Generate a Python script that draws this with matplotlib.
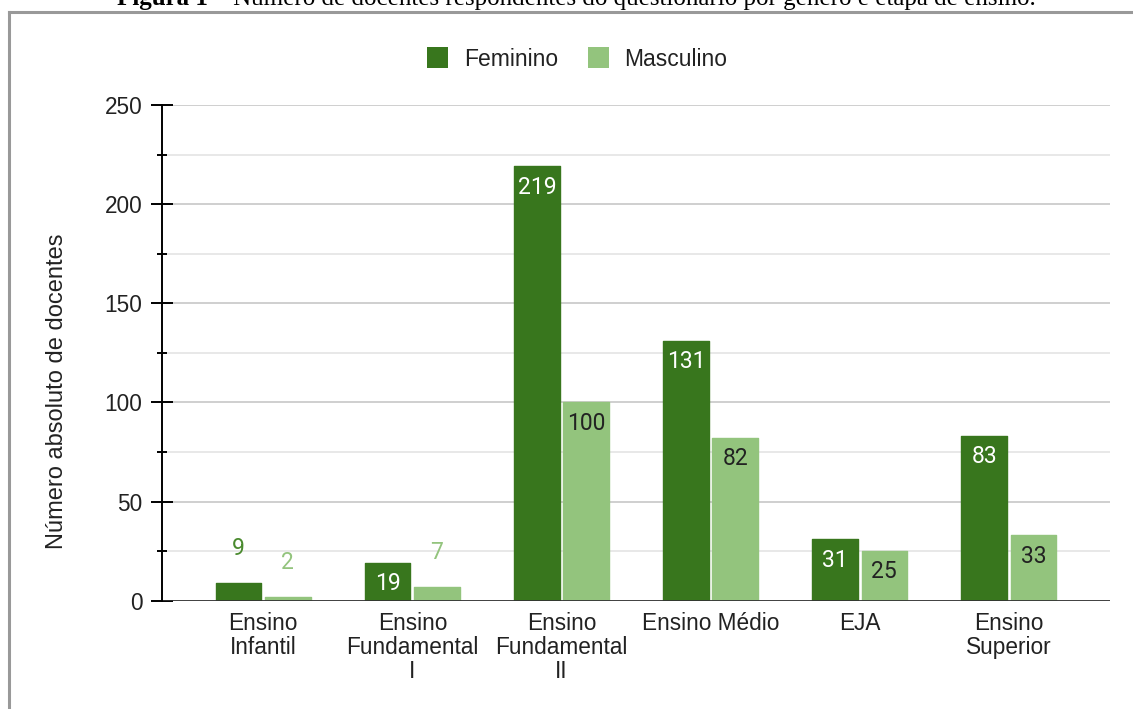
import numpy as np
import matplotlib
matplotlib.use('Agg')
import matplotlib.pyplot as plt
from matplotlib.patches import Patch
from matplotlib.lines import Line2D
from matplotlib.ticker import MultipleLocator

categorias = ['Ensino\nInfantil', 'Ensino\nFundamental\nI', 'Ensino\nFundamental\nII',
              'Ensino Médio', 'EJA', 'Ensino\nSuperior']
feminino = [9, 19, 219, 131, 31, 83]
masculino = [2, 7, 100, 82, 25, 33]

VERDE_ESCURO = '#38761d'
VERDE_CLARO = '#93c47d'
SANS = 'Liberation Sans'

W, H = 1133, 709
fig = plt.figure(figsize=(W / 100, H / 100), dpi=100)
ax = fig.add_axes([162 / W, (H - 600.7) / H, 948 / W, 495.7 / H])

# moldura cinza (cortada na direita e embaixo, como no recorte original)
fig.add_artist(Line2D([9 / W, 9 / W], [0, 1 - 12 / H], transform=fig.transFigure,
                      color='#999999', lw=2.2))
fig.add_artist(Line2D([9 / W, 1], [1 - 12 / H, 1 - 12 / H], transform=fig.transFigure,
                      color='#999999', lw=2.2))

# legenda da figura, parcialmente cortada no topo: ajusta o tamanho para ir de 117 a 1033 px
t1 = fig.text(117 / W, 1 - 5.5 / H, 'Figura 1', family='Liberation Serif', weight='bold',
              fontsize=17, ha='left', va='baseline')
t2 = fig.text(0, 1 - 5.5 / H,
              ' – Número de docentes respondentes do questionário por gênero e etapa de ensino.',
              family='Liberation Serif', fontsize=17, ha='left', va='baseline')
r = fig.canvas.get_renderer()
larg = t1.get_window_extent(r).width + t2.get_window_extent(r).width
tam = 17 * (1033 - 117) / larg
t1.set_fontsize(tam)
t2.set_fontsize(tam)
t2.set_x((117 + t1.get_window_extent(r).width) / W)

x = np.arange(len(categorias))
largura = 0.304
desl = 0.165

b1 = ax.bar(x - desl, feminino, largura, color=VERDE_ESCURO, edgecolor=VERDE_ESCURO,
            linewidth=1, joinstyle='round', zorder=3)
b2 = ax.bar(x + desl, masculino, largura, color=VERDE_CLARO, edgecolor=VERDE_CLARO,
            linewidth=1, joinstyle='round', zorder=3)

# rótulos de dados: dentro da barra quando cabe, acima dela quando não
for barras, vals, cor_in, cor_out in [(b1, feminino, 'white', '#4a8a2e'),
                                      (b2, masculino, '#222222', VERDE_CLARO)]:
    for b, v in zip(barras, vals):
        cx = b.get_x() + b.get_width() / 2
        if v >= 15:
            ax.annotate(str(v), (cx, v), xytext=(0, -15), textcoords='offset points',
                        ha='center', va='center', color=cor_in, fontsize=16.5,
                        family='Roboto', zorder=4)
        else:
            ax.annotate(str(v), (cx, v), xytext=(0, 25), textcoords='offset points',
                        ha='center', va='center', color=cor_out, fontsize=16.5,
                        family='Roboto', zorder=4)

ax.set_xlim(-0.679, 5.679)
ax.set_ylim(0, 250)
ax.yaxis.set_major_locator(MultipleLocator(50))
ax.yaxis.set_minor_locator(MultipleLocator(25))
ax.grid(True, which='major', axis='y', color='#cccccc', lw=1.3, zorder=0)
ax.grid(True, which='minor', axis='y', color='#e6e6e6', lw=1.3, zorder=0)
ax.axhline(0, color='#333333', lw=2, zorder=4)

for s in ['top', 'right', 'bottom']:
    ax.spines[s].set_visible(False)
ax.spines['left'].set_linewidth(1.4)
ax.spines['left'].set_zorder(5)

ax.tick_params(axis='y', which='major', direction='inout', length=16, width=1.4,
               labelsize=16.3, pad=6)
ax.tick_params(axis='y', which='minor', direction='inout', length=7.6, width=1.4)
for lab in ax.get_yticklabels():
    lab.set_family(SANS)
    lab.set_color('#222222')

ax.set_xticks(x)
ax.set_xticklabels(categorias, family=SANS, fontsize=16.3, color='#222222', linespacing=1.05)
ax.tick_params(axis='x', length=0, pad=8)

fig.text(57 / W, 1 - 391 / H, 'Número absoluto de docentes', rotation=90,
         ha='center', va='center', family=SANS, fontsize=17, color='#222222')

fig.legend(handles=[Patch(facecolor=VERDE_ESCURO, label='Feminino'),
                    Patch(facecolor=VERDE_CLARO, label='Masculino')],
           loc='center', bbox_to_anchor=(577.5 / W, 1 - 59 / H), ncol=2, frameon=False,
           prop={'family': SANS, 'size': 16.5}, handlelength=0.9, handleheight=1.0,
           handletextpad=0.7, columnspacing=1.3, labelcolor='#222222')

fig.savefig('out.png', dpi=100)
